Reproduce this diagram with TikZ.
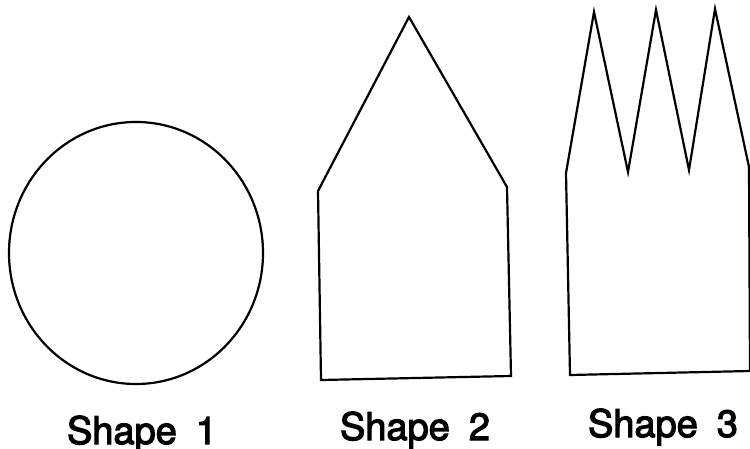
\documentclass[tikz,border=0pt]{standalone}
\usepackage{fontspec}
\setmainfont{TeX Gyre Heros}
\newfontfamily\capfont{TeX Gyre Heros}[FakeBold=3]
\usepackage{tikz}
\tikzset{
  outline/.style={draw=black, line width=2.2pt, line join=miter},
  caption/.style={anchor=base, inner sep=0pt,
    font=\capfont\fontsize{38}{40}\selectfont,
    execute at begin node={\spaceskip=0.5em\relax}}
}

\begin{document}
\begin{tikzpicture}[x=1pt, y=-1pt]
\useasboundingbox (0,0) rectangle (750,449);

% shape 1
\draw[outline] (136,253) ellipse [x radius=127, y radius=131];

% shape 2
\draw[outline] (409,17) -- (507,187) -- (511,376) -- (321,380)
      -- (318,191) -- cycle;

% shape 3
\draw[outline] (566,173) -- (594,12) -- (628,172) -- (656,10) -- (689,170)
      -- (715,9) -- (749,167) -- (750,371) -- (570,375) -- cycle;

\node (cap1) [caption] at (142,444) {Shape 1};
\node (cap2) [caption] at (415,440) {Shape 2};
\node (cap3) [caption] at (663,437) {Shape 3};
\end{tikzpicture}
\end{document}
